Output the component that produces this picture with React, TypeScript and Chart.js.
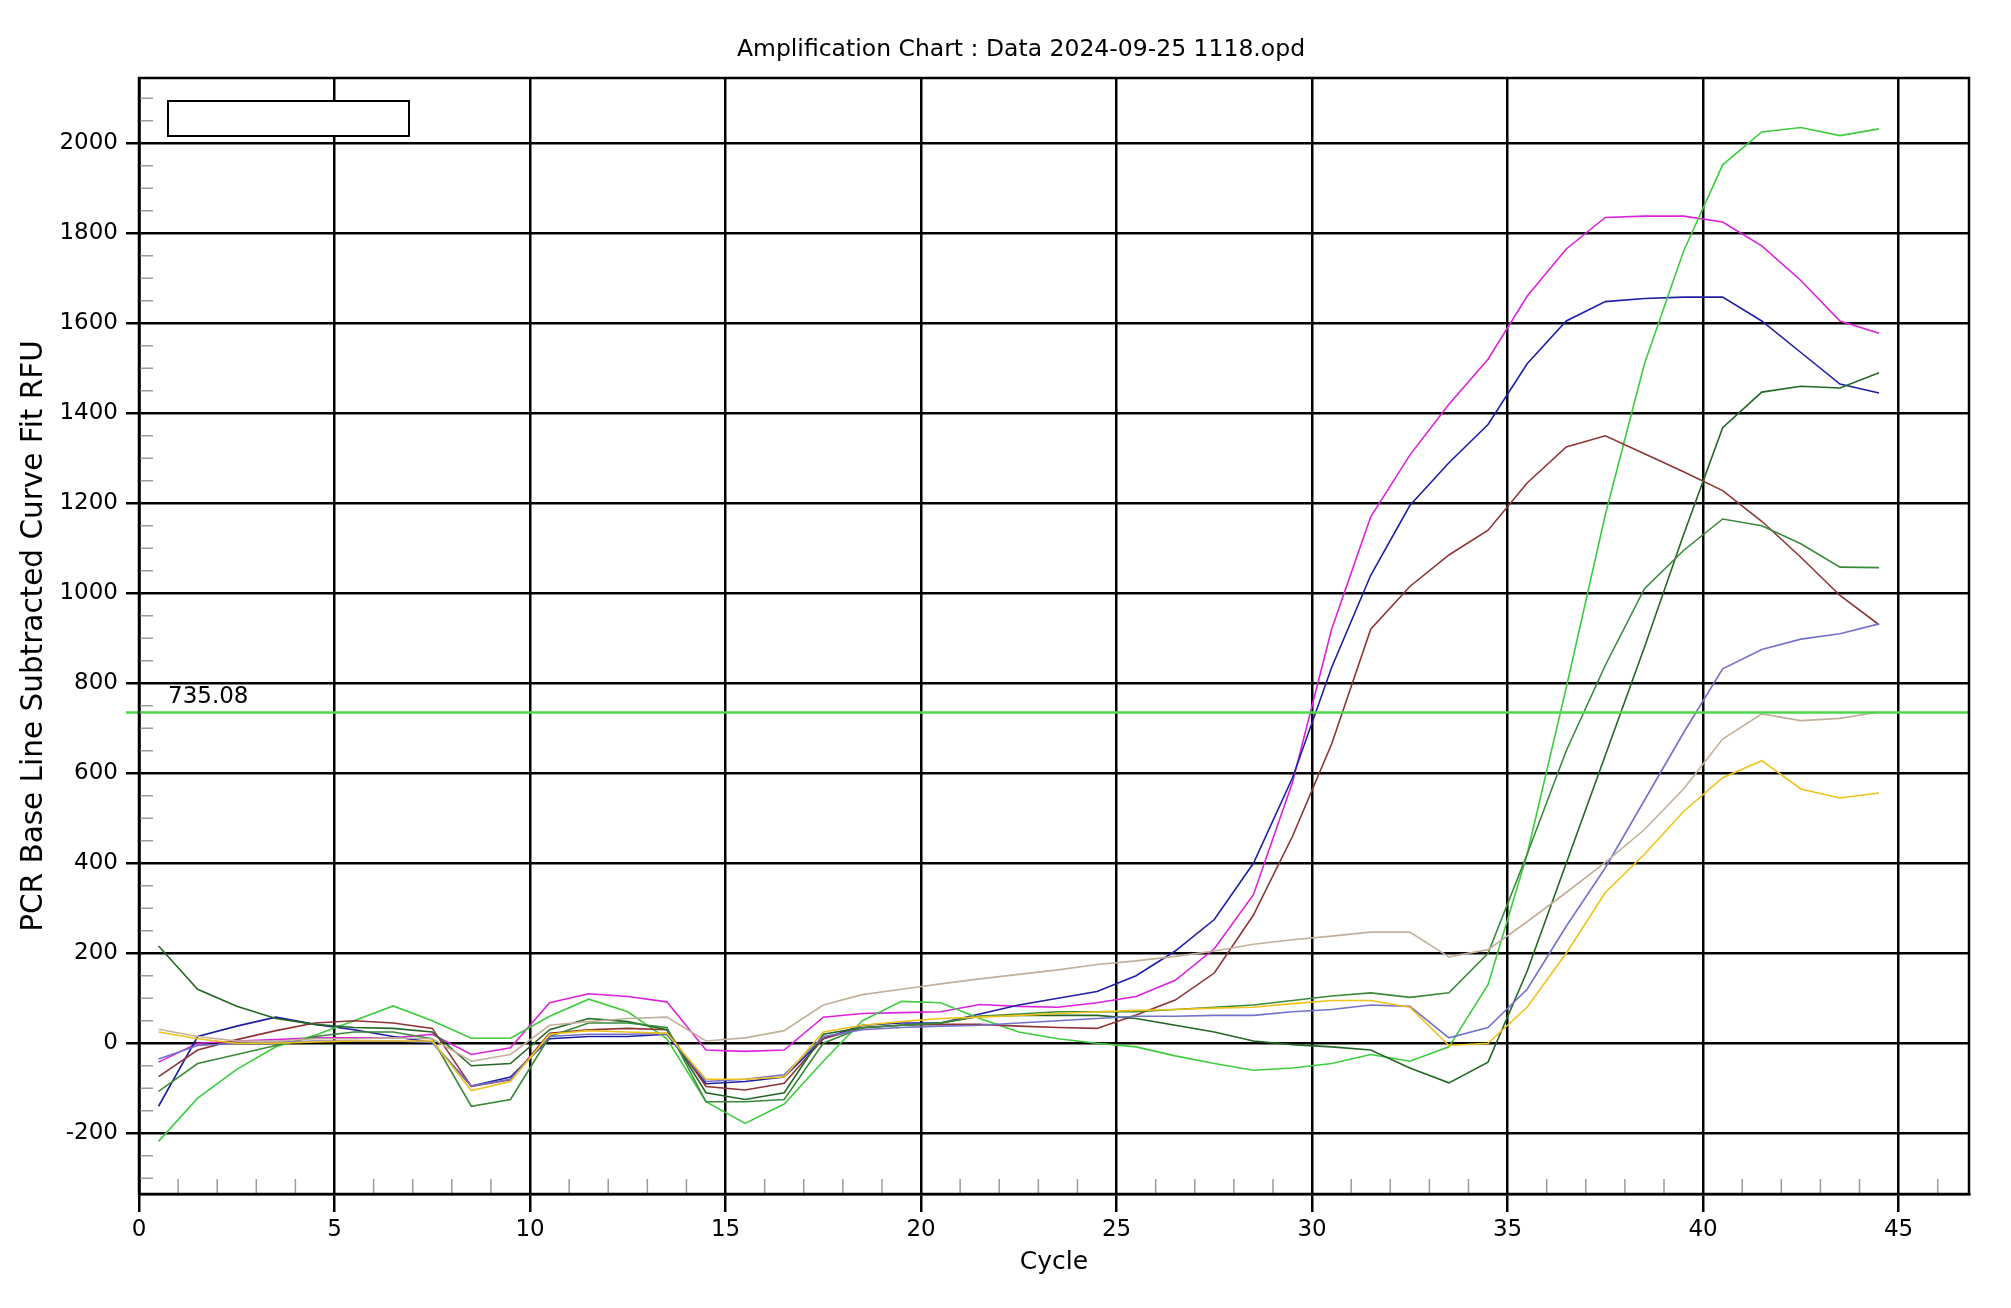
import { useEffect, useRef } from "react";
import { Chart, registerables } from "chart.js";

Chart.register(...registerables);

const FONT = "'DejaVu Sans', 'Liberation Sans', sans-serif";

// cycle positions of the fitted points
const cycles = [
  0.5, 1.5, 2.5, 3.5, 4.5, 5.5, 6.5, 7.5, 8.5, 9.5,
  10.5, 11.5, 12.5, 13.5, 14.5, 15.5, 16.5, 17.5, 18.5, 19.5,
  20.5, 21.5, 22.5, 23.5, 24.5, 25.5, 26.5, 27.5, 28.5, 29.5,
  30.5, 31.5, 32.5, 33.5, 34.5, 35.5, 36.5, 37.5, 38.5, 39.5,
  40.5, 41.5, 42.5, 43.5, 44.5,
];

const wellMagenta = [
  -42, 0, 5, 8, 12, 12, 12, 20, -25, -10,
  90, 110, 104, 92, -15, -18, -15, 58, 66, 68,
  70, 86, 82, 80, 90, 104, 140, 210, 330, 580,
  920, 1170, 1307, 1420, 1520, 1660, 1765, 1835, 1838, 1838,
  1825, 1772, 1695, 1605, 1578,
];
const wellBlue = [
  -140, 15, 38, 58, 42, 30, 15, 2, -95, -75,
  10, 15, 15, 20, -90, -85, -75, 10, 40, 45,
  45, 65, 85, 100, 115, 150, 205, 275, 400, 590,
  835, 1040, 1195, 1290, 1375, 1510, 1605, 1648, 1655, 1658,
  1658, 1605, 1535, 1465, 1445,
];
const wellGreen = [
  -218, -122, -58, -8, 18, 50, 83, 50, 11, 11,
  60, 98, 70, 10, -130, -178, -135, -40, 50, 93,
  90, 55, 25, 10, 0, -8, -28, -45, -60, -55,
  -45, -25, -40, -8, 130, 420, 790, 1175, 1510, 1760,
  1952, 2025, 2035, 2017, 2032,
];
const wellDarkGreenA = [
  216, 120, 82, 55, 42, 35, 33, 25, -50, -45,
  30, 55, 48, 30, -110, -125, -110, 20, 35, 40,
  45, 60, 62, 62, 62, 55, 40, 25, 5, -3,
  -8, -15, -55, -88, -42, 160, 400, 640, 880, 1130,
  1368, 1447, 1460, 1456, 1490,
];
const wellDarkGreenB = [
  -107, -45, -25, -5, 15, 25, 25, 10, -140, -125,
  15, 45, 45, 35, -130, -130, -125, 0, 35, 40,
  45, 60, 65, 70, 70, 70, 75, 80, 85, 95,
  105, 112, 102, 112, 200, 420, 650, 840, 1010, 1095,
  1165, 1150, 1110, 1058, 1057,
];
const wellBrown = [
  -74, -15, 8, 28, 45, 50, 45, 33, -96, -81,
  22, 30, 33, 30, -96, -104, -89, 10, 34, 40,
  42, 42, 38, 35, 33, 63, 96, 156, 285, 460,
  665, 920, 1015, 1085, 1140, 1245, 1325, 1350, 1310, 1270,
  1228, 1160, 1080, 995, 930,
];
const wellSlate = [
  -35, -5, 0, 2, 5, 5, 5, 2, -95, -80,
  15, 20, 20, 22, -85, -80, -70, 15, 30, 35,
  38, 40, 45, 50, 55, 60, 60, 62, 62, 70,
  75, 85, 82, 12, 35, 120, 260, 390, 540, 690,
  832, 875, 898, 910, 932,
];
const wellTan = [
  31, 15, 5, 5, 10, 10, 12, 10, -40, -25,
  40, 48, 55, 58, 5, 12, 28, 85, 108, 120,
  132, 143, 153, 163, 175, 183, 193, 205, 220, 230,
  238, 247, 247, 192, 208, 270, 335, 402, 475, 565,
  676, 732, 717, 722, 736,
];
const wellGold = [
  25, 10, 0, 0, 3, 5, 5, 5, -105, -85,
  20, 28, 25, 22, -80, -80, -75, 25, 40, 48,
  55, 58, 62, 66, 70, 73, 75, 78, 80, 88,
  95, 95, 80, -5, 0, 80, 200, 335, 420, 515,
  590, 628, 565, 545, 556,
];

const threshold = 735.08;
const xMax = 46.8;
const yMin = -335;
const yMax = 2145;

const wells = [
  { values: wellTan, color: "#c3b09a" },
  { values: wellGold, color: "#f0c21a" },
  { values: wellSlate, color: "#7272cc" },
  { values: wellDarkGreenB, color: "#3b8a3b" },
  { values: wellDarkGreenA, color: "#246824" },
  { values: wellBrown, color: "#8e3535" },
  { values: wellGreen, color: "#3dcd3d" },
  { values: wellBlue, color: "#1f1fa6" },
  { values: wellMagenta, color: "#dc22dc" },
];

// frame, minor ticks, threshold line + label and the empty legend box
const extrasPlugin = {
  id: "pcrExtras",
  afterDatasetsDraw(chart: any) {
    const { ctx, chartArea, scales } = chart;
    const ty = scales.y.getPixelForValue(threshold);
    ctx.save();
    ctx.strokeStyle = "#4bd84b";
    ctx.lineWidth = 2.5;
    ctx.beginPath();
    ctx.moveTo(chartArea.left - 13, ty);
    ctx.lineTo(chartArea.right, ty);
    ctx.stroke();
    ctx.fillStyle = "#000";
    ctx.font = `23px ${FONT}`;
    ctx.textAlign = "left";
    ctx.textBaseline = "alphabetic";
    ctx.fillText(threshold.toFixed(2), chartArea.left + 29, ty - 9);
    ctx.restore();
  },
  afterDraw(chart: any) {
    const { ctx, chartArea, scales } = chart;
    const { left, right, top, bottom } = chartArea;
    ctx.save();
    // minor ticks
    ctx.strokeStyle = "#9c9c9c";
    ctx.lineWidth = 1.5;
    ctx.beginPath();
    for (let v = Math.ceil(yMin / 50) * 50; v <= yMax; v += 50) {
      if (v % 200 === 0) continue;
      const py = scales.y.getPixelForValue(v);
      ctx.moveTo(left, py);
      ctx.lineTo(left + 14, py);
    }
    for (let c = 1; c < xMax; c++) {
      if (c % 5 === 0) continue;
      const px = scales.x.getPixelForValue(c);
      ctx.moveTo(px, bottom);
      ctx.lineTo(px, bottom - 15);
    }
    ctx.stroke();
    // frame
    ctx.strokeStyle = "#000";
    ctx.lineWidth = 2.5;
    ctx.strokeRect(left, top, right - left, bottom - top);
    // empty legend box
    ctx.lineWidth = 2;
    ctx.fillStyle = "#fff";
    ctx.fillRect(left + 29, top + 23, 241, 35);
    ctx.strokeRect(left + 29, top + 23, 241, 35);
    ctx.restore();
  },
};

export default function App() {
  const canvasRef = useRef<HTMLCanvasElement>(null);
  const chartRef = useRef<Chart | null>(null);

  useEffect(() => {
    if (!canvasRef.current) return;
    if (chartRef.current) chartRef.current.destroy();

    const datasets: any[] = wells.map((w) => ({
      data: cycles.map((c, i) => ({ x: c, y: w.values[i] })),
      borderColor: w.color,
      backgroundColor: w.color,
      borderWidth: 1.6,
      pointRadius: 0,
      tension: 0,
      fill: false,
    }));

    chartRef.current = new Chart(canvasRef.current, {
      type: "line",
      data: { datasets },
      options: {
        responsive: false,
        animation: false,
        devicePixelRatio: 1,
        layout: { padding: 0 },
        plugins: {
          legend: { display: false },
          tooltip: { enabled: false },
          title: {
            display: true,
            text: "Amplification Chart : Data 2024-09-25 1118.opd",
            color: "#000",
            font: { family: FONT, size: 23.5, weight: "normal" },
            padding: { top: 36, bottom: 13.8 },
          },
        },
        scales: {
          x: {
            type: "linear",
            min: 0,
            max: xMax,
            ticks: {
              stepSize: 5,
              includeBounds: false,
              autoSkip: false,
              maxRotation: 0,
              color: "#000",
              padding: 4.5,
              font: { family: FONT, size: 23 },
              callback: (v: any) => String(v),
            },
            grid: { color: "#000", lineWidth: 2.5, tickLength: 18, tickColor: "#000", tickWidth: 2.5 },
            border: { color: "#000", width: 2.5 },
            title: {
              display: true,
              text: "Cycle",
              color: "#000",
              font: { family: FONT, size: 25 },
              padding: { top: 0, bottom: 31 },
            },
            afterFit: (s: any) => {
              s.height = 114;
            },
          },
          y: {
            type: "linear",
            min: yMin,
            max: yMax,
            ticks: {
              stepSize: 200,
              includeBounds: false,
              color: "#000",
              padding: 8,
              font: { family: FONT, size: 23 },
              callback: (v: any) => String(v),
            },
            grid: { color: "#000", lineWidth: 2.5, tickLength: 13, tickColor: "#000", tickWidth: 2.5 },
            border: { color: "#000", width: 2.5 },
            title: {
              display: true,
              text: "PCR Base Line Subtracted Curve Fit RFU",
              color: "#000",
              font: { family: FONT, size: 29.5 },
              padding: { top: 17, bottom: 0 },
            },
            afterFit: (s: any) => {
              s.width = 139;
            },
          },
          // spacer on the right so the chart area ends where the reference does
          spacer: {
            type: "linear",
            position: "right",
            display: true,
            ticks: { display: false },
            grid: { display: false, drawTicks: false },
            border: { display: false },
            afterFit: (s: any) => {
              s.width = 73;
            },
          },
        },
      } as any,
      plugins: [extrasPlugin],
    });

    return () => {
      if (chartRef.current) {
        chartRef.current.destroy();
        chartRef.current = null;
      }
    };
  }, []);

  return (
    <div
      style={{
        position: "absolute",
        left: 0,
        top: 0,
        width: 2011,
        height: 1308,
        overflow: "hidden",
        background: "#fff",
      }}
    >
      <canvas ref={canvasRef} width={2042} height={1308} style={{ display: "block" }} />
    </div>
  );
}
